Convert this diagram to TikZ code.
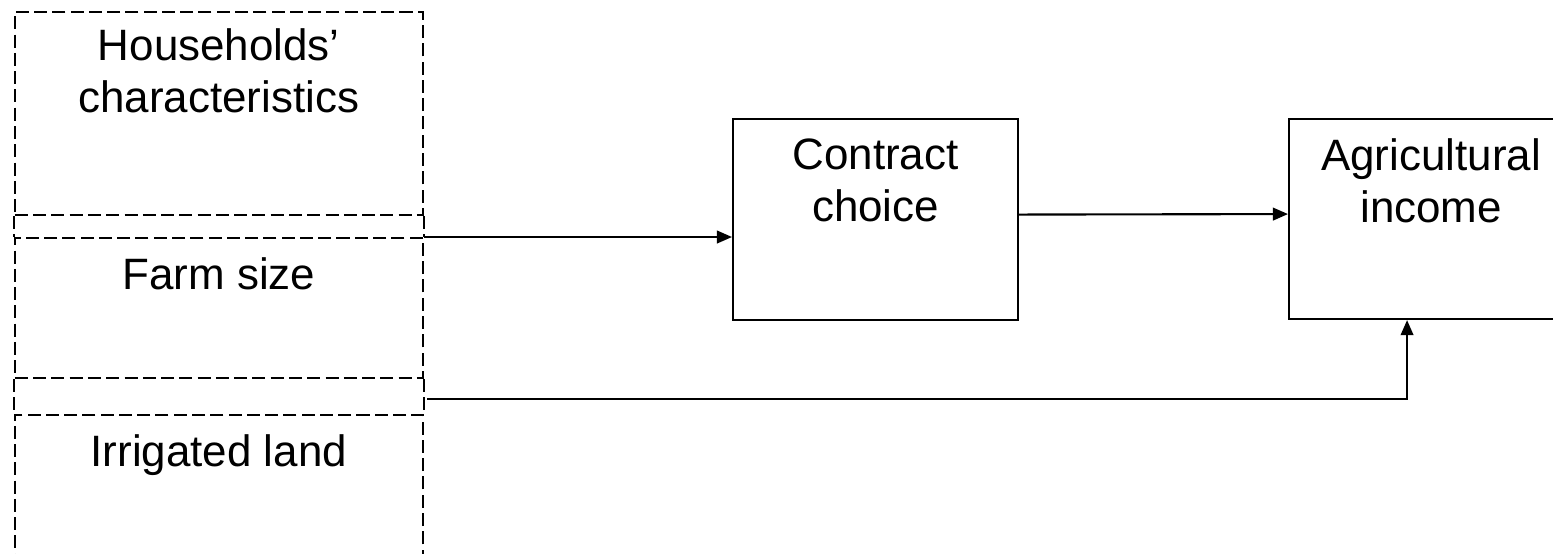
\documentclass[tikz,border=0pt]{standalone}
\usepackage{fontspec}
\setmainfont{Liberation Sans}
\usetikzlibrary{arrows.meta}

\begin{document}
\begin{tikzpicture}[
        panel/.style={draw, line width=0.5pt, dash pattern=on 3.7pt off 1.5pt, minimum width=4.08cm, anchor=north west, inner sep=0pt},
        panelline/.style={line width=0.5pt, dash pattern=on 3.7pt off 1.5pt},
        box/.style={draw, line width=0.6pt, anchor=north west, inner sep=0pt},
        lbl/.style={anchor=north, align=center, font=\fontsize{12.5}{14.8}\selectfont, yshift=-0.08cm},
        arrow/.style={-{Triangle[length=4.3pt,width=3.6pt]}, line width=0.6pt}
      ]
        \useasboundingbox (0,0) rectangle (15.53,-5.53);
        % left column
        \node (hh)   [panel, minimum height=2.03cm] at (0.14,-0.11) [label={[lbl, yshift=0.03cm]north:{Households'\\characteristics}}] {};
        \node (farm) [panel, minimum height=1.40cm] at (0.14,-2.37) [label={[lbl]north:Farm size}] {};
        \node (irr)  [panel, minimum height=1.60cm] at (0.14,-4.14) [label={[lbl]north:Irrigated land}] {};
        \draw[panelline] (hh.south west) -- (farm.north west);
        \draw[panelline] (hh.south east) -- (farm.north east);
        \draw[panelline] (farm.south west) -- (irr.north west);
        \draw[panelline] (farm.south east) -- (irr.north east);
        % outcome boxes
        \node (contract) [box, minimum width=2.85cm, minimum height=2.01cm] at (7.32,-1.18) [label={[lbl]north:{Contract\\choice}}] {};
        \node (income)   [box, minimum width=2.84cm, minimum height=2.00cm] at (12.88,-1.18) [label={[lbl]north:{Agricultural\\income}}] {};
        \coordinate (src) at (4.27,-3.99);
        \draw[arrow] (farm.north east) -- (farm.north east -| contract.west);
        \draw[arrow] ([yshift=0.05cm]contract.east) -- ([yshift=0.05cm]income.west);
        \draw[arrow] (src) -| ([xshift=-0.24cm]income.south);
      \end{tikzpicture}
\end{document}
